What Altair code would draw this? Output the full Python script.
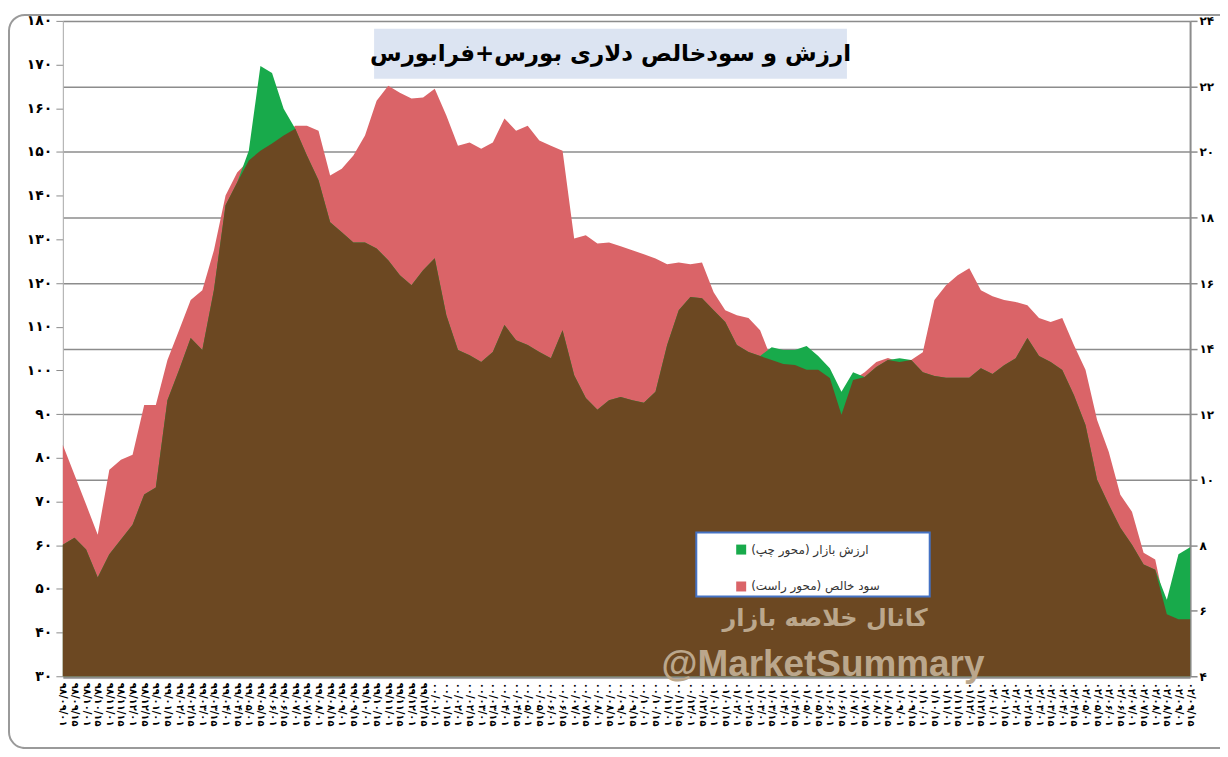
import json
import altair as alt
import pandas as pd

# ---------------- data ----------------
dates = [
    "۹۸/۰۹/۰۱", "۹۸/۰۹/۱۵", "۹۸/۱۰/۰۱", "۹۸/۱۰/۱۵", "۹۸/۱۱/۰۱", "۹۸/۱۱/۱۵", "۹۸/۱۲/۰۱", "۹۸/۱۲/۱۵",
    "۹۹/۰۱/۰۱", "۹۹/۰۱/۱۵", "۹۹/۰۲/۰۱", "۹۹/۰۲/۱۵", "۹۹/۰۳/۰۱", "۹۹/۰۳/۱۵", "۹۹/۰۴/۰۱", "۹۹/۰۴/۱۵",
    "۹۹/۰۵/۰۱", "۹۹/۰۵/۱۵", "۹۹/۰۶/۰۱", "۹۹/۰۶/۱۵", "۹۹/۰۷/۰۱", "۹۹/۰۷/۱۵", "۹۹/۰۸/۰۱", "۹۹/۰۸/۱۵",
    "۹۹/۰۹/۰۱", "۹۹/۰۹/۱۵", "۹۹/۱۰/۰۱", "۹۹/۱۰/۱۵", "۹۹/۱۱/۰۱", "۹۹/۱۱/۱۵", "۹۹/۱۲/۰۱", "۹۹/۱۲/۱۵",
    "۰۰/۰۱/۰۱", "۰۰/۰۱/۱۵", "۰۰/۰۲/۰۱", "۰۰/۰۲/۱۵", "۰۰/۰۳/۰۱", "۰۰/۰۳/۱۵", "۰۰/۰۴/۰۱", "۰۰/۰۴/۱۵",
    "۰۰/۰۵/۰۱", "۰۰/۰۵/۱۵", "۰۰/۰۶/۰۱", "۰۰/۰۶/۱۵", "۰۰/۰۷/۰۱", "۰۰/۰۷/۱۵", "۰۰/۰۸/۰۱", "۰۰/۰۸/۱۵",
    "۰۰/۰۹/۰۱", "۰۰/۰۹/۱۵", "۰۰/۱۰/۰۱", "۰۰/۱۰/۱۵", "۰۰/۱۱/۰۱", "۰۰/۱۱/۱۵", "۰۰/۱۲/۰۱", "۰۰/۱۲/۱۵",
    "۰۱/۰۱/۰۱", "۰۱/۰۱/۱۵", "۰۱/۰۲/۰۱", "۰۱/۰۲/۱۵", "۰۱/۰۳/۰۱", "۰۱/۰۳/۱۵", "۰۱/۰۴/۰۱", "۰۱/۰۴/۱۵",
    "۰۱/۰۵/۰۱", "۰۱/۰۵/۱۵", "۰۱/۰۶/۰۱", "۰۱/۰۶/۱۵", "۰۱/۰۷/۰۱", "۰۱/۰۷/۱۵", "۰۱/۰۸/۰۱", "۰۱/۰۸/۱۵",
    "۰۱/۰۹/۰۱", "۰۱/۰۹/۱۵", "۰۱/۱۰/۰۱", "۰۱/۱۰/۱۵", "۰۱/۱۱/۰۱", "۰۱/۱۱/۱۵", "۰۱/۱۲/۰۱", "۰۱/۱۲/۱۵",
    "۰۲/۰۱/۰۱", "۰۲/۰۱/۱۵", "۰۲/۰۲/۰۱", "۰۲/۰۲/۱۵", "۰۲/۰۳/۰۱", "۰۲/۰۳/۱۵", "۰۲/۰۴/۰۱", "۰۲/۰۴/۱۵",
    "۰۲/۰۵/۰۱", "۰۲/۰۵/۱۵", "۰۲/۰۶/۰۱", "۰۲/۰۶/۱۵", "۰۲/۰۷/۰۱", "۰۲/۰۷/۱۵", "۰۲/۰۸/۰۱", "۰۲/۰۸/۱۵",
    "۰۲/۰۹/۰۱", "۰۲/۰۹/۱۵",
]

# market value (left axis)
market_value = [
    60.1, 61.7, 59.0, 52.6, 57.9, 61.3, 64.7, 71.6, 73.2, 93.2,
    100.1, 107.4, 104.7, 118.4, 137.8, 143.0, 150.3, 169.7, 168.1, 159.9,
    155.3, 149.2, 143.5, 133.9, 131.6, 129.3, 129.3, 127.9, 125.2, 121.8,
    119.5, 122.9, 125.7, 112.6, 104.7, 103.5, 101.9, 104.2, 110.4, 106.9,
    105.8, 104.2, 102.8, 109.2, 98.9, 93.7, 91.0, 93.2, 93.9, 93.2,
    92.6, 95.1, 105.8, 113.8, 116.8, 116.5, 113.8, 111.1, 105.8, 104.2,
    103.3, 105.3, 104.7, 104.7, 105.6, 103.3, 100.5, 95.1, 99.6, 98.5,
    100.8, 102.4, 102.8, 102.4, 99.6, 98.7, 98.3, 98.3, 98.3, 100.5,
    99.2, 101.2, 102.8, 107.4, 103.3, 101.9, 100.1, 94.4, 87.5, 75.0,
    69.3, 64.0, 60.1, 55.6, 54.4, 47.5, 57.9, 59.5,
]

# net profit (right axis)
net_profit = [
    11.06, 10.15, 9.24, 8.32, 10.30, 10.61, 10.76, 12.28, 12.28, 13.65,
    14.56, 15.48, 15.78, 17.00, 18.67, 19.37, 19.74, 20.04, 20.26, 20.50,
    20.80, 20.80, 20.65, 19.28, 19.49, 19.89, 20.50, 21.56, 22.02, 21.81,
    21.63, 21.66, 21.93, 21.11, 20.19, 20.29, 20.10, 20.29, 21.02, 20.65,
    20.80, 20.35, 20.19, 20.04, 17.36, 17.46, 17.21, 17.24, 17.12, 17.00,
    16.88, 16.75, 16.57, 16.63, 16.57, 16.63, 15.72, 15.17, 15.02, 14.93,
    14.56, 13.65, 13.53, 13.50, 13.35, 13.35, 13.10, 11.98, 13.04, 13.28,
    13.59, 13.71, 13.59, 13.65, 13.89, 15.48, 15.93, 16.24, 16.45, 15.78,
    15.60, 15.48, 15.42, 15.32, 14.93, 14.81, 14.93, 14.11, 13.35, 11.82,
    10.85, 9.54, 9.02, 7.77, 7.56, 5.89, 5.74, 5.74,
]

left_tick_values = [30, 40, 50, 60, 70, 80, 90, 100, 110, 120, 130, 140, 150, 160, 170, 180]
left_tick_labels = ["۳۰", "۴۰", "۵۰", "۶۰", "۷۰", "۸۰", "۹۰", "۱۰۰", "۱۱۰", "۱۲۰",
                    "۱۳۰", "۱۴۰", "۱۵۰", "۱۶۰", "۱۷۰", "۱۸۰"]
right_tick_values = [4, 6, 8, 10, 12, 14, 16, 18, 20, 22, 24]
right_tick_labels = ["۴", "۶", "۸", "۱۰", "۱۲", "۱۴", "۱۶", "۱۸", "۲۰", "۲۲", "۲۴"]

title_text = "ارزش و سودخالص دلاری بورس+فرابورس"
legend_labels = ["\u200fارزش بازار (محور چپ)\u200f", "\u200fسود خالص (محور راست)\u200f"]
watermark_fa = "کانال خلاصه بازار"
watermark_en = "@MarketSummary"

RED = "#DA6468"
GREEN = "#18AA4B"
BROWN = "#6C4822"
GRID = "#8c8c8c"
FONT = "DejaVu Sans"

W, H = 1130, 657

df = pd.DataFrame({"date": dates, "value": market_value, "profit": net_profit})

base = alt.Chart(df)

x_enc = alt.X(
    "date:N",
    sort=dates,
    scale=alt.Scale(type="point", padding=0),
    axis=alt.Axis(
        title=None, labelAngle=90, labelAlign="left", labelBaseline="middle",
        labelFont=FONT, labelFontSize=10, labelFontWeight="bold", labelColor="black",
        labelOverlap=False, ticks=False, domainColor=GRID, domainWidth=4, labelPadding=6,
    ),
)

left_expr = json.dumps(left_tick_labels, ensure_ascii=False) + "[round((datum.value-30)/10)]"
right_expr = json.dumps(right_tick_labels, ensure_ascii=False) + "[round((datum.value-4)/2)]"

red = base.mark_area(color=RED, opacity=1).encode(
    x=x_enc,
    y=alt.Y(
        "profit:Q",
        scale=alt.Scale(domain=[4, 24], nice=False, zero=False),
        axis=alt.Axis(
            orient="right", title=None, values=right_tick_values, labelExpr=right_expr,
            grid=True, gridColor=GRID, gridWidth=1.5, domainColor=GRID, domainWidth=2,
            tickColor=GRID, tickSize=7, tickWidth=1.5, labelFont=FONT, labelFontSize=12,
            labelFontWeight="bold", labelColor="black", labelPadding=2,
        ),
    ),
    y2=alt.datum(4),
)

green = base.mark_area(color=GREEN, opacity=1).encode(
    x=x_enc,
    y=alt.Y(
        "value:Q",
        scale=alt.Scale(domain=[30, 180], nice=False, zero=False),
        axis=alt.Axis(
            orient="left", title=None, values=left_tick_values, labelExpr=left_expr,
            grid=False, domainColor="#b0b0b0", domainWidth=1, tickColor=GRID, tickSize=7,
            labelFont=FONT, labelFontSize=14, labelFontWeight="bold", labelColor="black",
            labelPadding=4,
        ),
    ),
    y2=alt.datum(30),
)

brown = base.transform_calculate(
    low="min(datum.value, 30 + 7.5 * (datum.profit - 4))"
).mark_area(color=BROWN, opacity=1).encode(
    x=x_enc,
    y=alt.Y("low:Q", scale=alt.Scale(domain=[30, 180], nice=False, zero=False), axis=None),
    y2=alt.datum(30),
)

one = alt.Chart(pd.DataFrame({"t": [title_text]}))

frame = one.mark_rect(fill=None, stroke="#9a9a9a", strokeWidth=2, cornerRadius=16).encode(
    x=alt.value(-54), x2=alt.value(W + 70), y=alt.value(-6), y2=alt.value(H + 72)
)

title_box = one.mark_rect(color="#DCE4F2").encode(
    x=alt.value(312), x2=alt.value(786), y=alt.value(8), y2=alt.value(58)
)
title_txt = one.mark_text(font=FONT, fontSize=23, fontWeight="bold", color="black",
                          align="center", baseline="middle").encode(
    x=alt.value(549), y=alt.value(33), text="t:N"
)

legend_box = one.mark_rect(fill="white", stroke="#4472C4", strokeWidth=2).encode(
    x=alt.value(635), x2=alt.value(869), y=alt.value(513), y2=alt.value(577)
)
leg_sq1 = one.mark_rect(color=GREEN).encode(
    x=alt.value(675), x2=alt.value(685), y=alt.value(525), y2=alt.value(535)
)
leg_sq2 = one.mark_rect(color=RED).encode(
    x=alt.value(675), x2=alt.value(685), y=alt.value(562), y2=alt.value(572)
)
leg_t1 = alt.Chart(pd.DataFrame({"lab": [legend_labels[0]]})).mark_text(
    font=FONT, fontSize=12, color="#333333", align="left", baseline="middle"
).encode(x=alt.value(690), y=alt.value(530), text="lab:N")
leg_t2 = alt.Chart(pd.DataFrame({"lab": [legend_labels[1]]})).mark_text(
    font=FONT, fontSize=12, color="#333333", align="left", baseline="middle"
).encode(x=alt.value(690), y=alt.value(567), text="lab:N")

wm1 = alt.Chart(pd.DataFrame({"w": [watermark_fa]})).mark_text(
    font=FONT, fontSize=24, fontWeight="bold", color="#BBA78C", align="center", baseline="middle"
).encode(x=alt.value(764), y=alt.value(600), text="w:N")
wm2 = alt.Chart(pd.DataFrame({"w": [watermark_en]})).mark_text(
    font="Liberation Sans", fontSize=37, fontWeight="bold", color="#BBA78C",
    align="center", baseline="middle"
).encode(x=alt.value(762), y=alt.value(646), text="w:N")

chart = alt.layer(
    red, green, brown, frame, title_box, title_txt, legend_box,
    leg_sq1, leg_sq2, leg_t1, leg_t2, wm1, wm2,
).resolve_scale(y="independent").properties(
    width=W, height=H,
    padding={"left": 55, "top": 12, "right": 30, "bottom": 72},
    autosize=alt.AutoSizeParams(type="none"),
).configure_view(stroke=None).configure(background="white")

chart.save("out.html", embed_options={"renderer": "svg", "actions": False})
